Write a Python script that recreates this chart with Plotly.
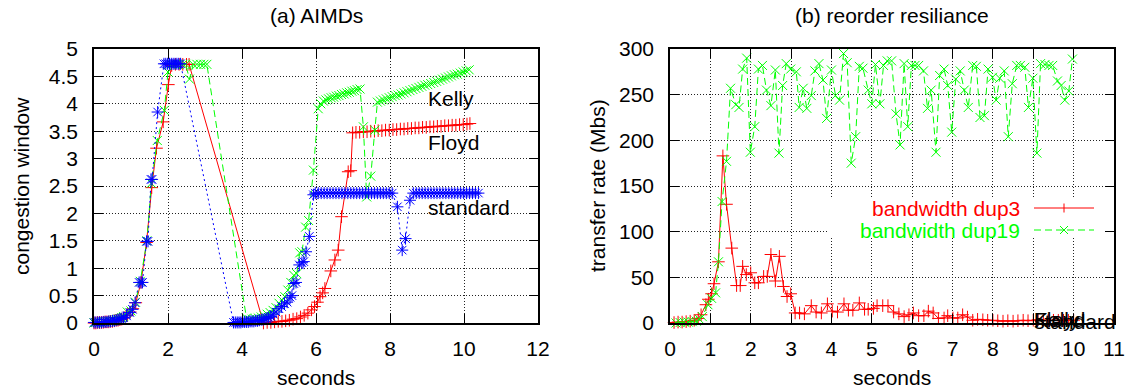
import plotly.graph_objects as go

# ---------------- data: (a) AIMDs ----------------
std_t = [0.00, 0.05, 0.10, 0.15, 0.20, 0.25, 0.30, 0.35, 0.40, 0.45, 0.50, 0.55, 0.60, 0.65, 0.70, 0.75, 0.80,
         0.88, 0.97, 1.04, 1.11, 1.22, 1.27, 1.31, 1.42, 1.46, 1.54, 1.57, 1.72,
         1.89, 1.94, 1.99, 2.04, 2.09, 2.14, 2.19, 2.24, 2.29, 2.34,
         3.77, 3.82, 3.87, 3.92, 3.97, 4.02, 4.07, 4.12, 4.17, 4.22, 4.27, 4.32, 4.37, 4.42, 4.47, 4.52, 4.57,
         4.62, 4.67, 4.72, 4.78, 4.85, 4.92, 5.00, 5.07, 5.15, 5.22, 5.30, 5.35, 5.40, 5.46, 5.55, 5.62, 5.67,
         5.73, 5.82, 5.93,
         5.98, 6.06, 6.14, 6.22, 6.30, 6.38, 6.46, 6.54, 6.62, 6.70, 6.78, 6.86, 6.94, 7.02, 7.10, 7.18, 7.26,
         7.34, 7.42, 7.50, 7.58, 7.66, 7.74, 7.82, 7.90, 7.98, 8.06,
         8.20, 8.33, 8.42, 8.54,
         8.63, 8.71, 8.79, 8.87, 8.95, 9.03, 9.11, 9.19, 9.27, 9.35, 9.43, 9.51, 9.59, 9.67, 9.75, 9.83, 9.91,
         9.99, 10.07, 10.15, 10.23, 10.31, 10.39]
std_w = [0.01, 0.01, 0.01, 0.01, 0.01, 0.02, 0.02, 0.02, 0.03, 0.03, 0.04, 0.04, 0.05, 0.06, 0.07, 0.08, 0.10,
         0.13, 0.19, 0.25, 0.37, 0.74, 0.74, 0.74, 1.49, 1.49, 2.62, 2.62, 3.85,
         4.73, 4.73, 4.73, 4.73, 4.73, 4.73, 4.73, 4.73, 4.73, 4.73,
         0.01, 0.01, 0.01, 0.01, 0.01, 0.02, 0.02, 0.02, 0.02, 0.03, 0.03, 0.03, 0.04, 0.04, 0.05, 0.06, 0.06,
         0.07, 0.08, 0.10, 0.12, 0.16, 0.20, 0.26, 0.30, 0.35, 0.38, 0.47, 0.50, 0.72, 0.74, 1.06, 1.10, 1.12,
         1.30, 1.58, 2.34,
         2.37, 2.37, 2.37, 2.37, 2.37, 2.37, 2.37, 2.37, 2.37, 2.37, 2.37, 2.37, 2.37, 2.37, 2.37, 2.37, 2.37,
         2.37, 2.37, 2.37, 2.37, 2.37, 2.37, 2.37, 2.37, 2.37, 2.37,
         2.12, 1.33, 1.54, 2.24,
         2.37, 2.37, 2.37, 2.37, 2.37, 2.37, 2.37, 2.37, 2.37, 2.37, 2.37, 2.37, 2.37, 2.37, 2.37, 2.37, 2.37,
         2.37, 2.37, 2.37, 2.37, 2.37, 2.37]

kelly_t = [0.00, 0.05, 0.10, 0.15, 0.20, 0.25, 0.30, 0.35, 0.40, 0.45, 0.50, 0.55, 0.60, 0.65, 0.70, 0.75, 0.80,
           0.90, 1.00, 1.12, 1.25, 1.43, 1.55, 1.71, 1.90, 2.00,
           2.10, 2.20, 2.30, 2.40, 2.48, 2.58, 2.68, 2.78, 2.88, 2.97, 3.05,
           4.12, 4.20, 4.28, 4.36, 4.44, 4.52, 4.60, 4.68, 4.76, 4.84, 4.92, 5.00, 5.08, 5.16, 5.24, 5.32, 5.40,
           5.48, 5.56, 5.62, 5.72, 5.80, 5.93,
           6.06, 6.13, 6.20, 6.27, 6.34, 6.41, 6.48, 6.55, 6.62, 6.69, 6.76, 6.83, 6.90, 6.97, 7.04, 7.11, 7.19,
           7.28, 7.37, 7.48, 7.59, 7.66,
           7.74, 7.82, 7.90, 7.98, 8.06, 8.14, 8.22, 8.30, 8.38, 8.46, 8.54, 8.62, 8.70, 8.78, 8.86, 8.94, 9.02,
           9.10, 9.18, 9.26, 9.34, 9.42, 9.50, 9.58, 9.66, 9.74, 9.82, 9.90, 9.98, 10.06, 10.14]
kelly_w = [0.00, 0.01, 0.01, 0.01, 0.01, 0.02, 0.02, 0.02, 0.03, 0.03, 0.04, 0.05, 0.06, 0.07, 0.08, 0.10, 0.12,
           0.20, 0.22, 0.38, 0.76, 1.50, 2.55, 3.33, 3.88, 4.58,
           4.72, 4.72, 4.72, 4.72, 4.72, 4.45, 4.72, 4.72, 4.72, 4.72, 4.72,
           0.09, 0.06, 0.07, 0.08, 0.09, 0.11, 0.13, 0.16, 0.19, 0.23, 0.28, 0.36, 0.42, 0.48, 0.60, 0.74, 0.87,
           0.90, 1.28, 1.30, 1.75, 1.87, 2.79,
           3.91, 4.00, 4.05, 4.07, 4.09, 4.11, 4.12, 4.14, 4.15, 4.17, 4.18, 4.20, 4.21, 4.23, 4.24, 4.26, 4.27,
           3.58, 2.30, 2.68, 3.52, 4.03,
           4.05, 4.07, 4.09, 4.11, 4.13, 4.15, 4.16, 4.18, 4.20, 4.22, 4.24, 4.26, 4.28, 4.30, 4.32, 4.34, 4.35,
           4.37, 4.39, 4.41, 4.43, 4.45, 4.47, 4.49, 4.51, 4.53, 4.54, 4.56, 4.58, 4.60, 4.62]

floyd_t = [0.00, 0.05, 0.10, 0.15, 0.20, 0.25, 0.30, 0.35, 0.40, 0.45, 0.50, 0.55, 0.60, 0.65, 0.70, 0.75, 0.80,
           0.90, 0.98, 1.05, 1.13, 1.27, 1.42, 1.56, 1.69, 1.87, 2.01, 2.10, 2.20, 2.30, 2.40, 2.50, 2.57,
           4.58, 4.68, 4.78, 4.88, 4.98, 5.08, 5.18, 5.28, 5.38, 5.48, 5.58, 5.68, 5.78, 5.88, 5.96, 6.04, 6.11,
           6.18, 6.24, 6.40, 6.51, 6.60, 6.69, 6.87, 6.94, 6.99,
           7.08, 7.18, 7.28, 7.38, 7.48, 7.58, 7.68, 7.78, 7.88, 7.98, 8.08, 8.18, 8.28, 8.38, 8.48, 8.58, 8.68,
           8.78, 8.88, 8.98, 9.08, 9.18, 9.28, 9.38, 9.48, 9.58, 9.68, 9.78, 9.88, 9.98, 10.08, 10.16]
floyd_w = [0.00, 0.00, 0.01, 0.01, 0.01, 0.01, 0.02, 0.02, 0.02, 0.03, 0.03, 0.04, 0.05, 0.05, 0.06, 0.07, 0.09,
           0.14, 0.20, 0.26, 0.37, 0.74, 1.47, 2.47, 3.19, 3.67, 4.35, 4.70, 4.72, 4.72, 4.72, 4.72, 4.72,
           0.00, 0.01, 0.01, 0.02, 0.03, 0.03, 0.04, 0.05, 0.07, 0.08, 0.11, 0.14, 0.18, 0.24, 0.30, 0.38, 0.48,
           0.55, 0.63, 0.95, 1.15, 1.33, 1.94, 2.76, 2.78, 3.47,
           3.48, 3.48, 3.49, 3.49, 3.50, 3.50, 3.51, 3.51, 3.52, 3.52, 3.53, 3.53, 3.54, 3.54, 3.55, 3.55, 3.56,
           3.56, 3.57, 3.57, 3.58, 3.58, 3.59, 3.59, 3.60, 3.60, 3.61, 3.61, 3.62, 3.62, 3.63, 3.64]

# ---------------- data: (b) reorder resiliance ----------------
dup3_t = [0.10, 0.20, 0.30, 0.40, 0.50, 0.60, 0.70, 0.77, 0.89, 0.95, 1.03, 1.09, 1.20, 1.31, 1.40, 1.53,
          1.65, 1.74, 1.80, 1.89, 2.00, 2.10, 2.19, 2.32, 2.41, 2.50, 2.61, 2.71, 2.81, 2.90, 2.99,
          3.10, 3.21, 3.33, 3.50, 3.62, 3.75, 3.90, 4.02, 4.15, 4.31, 4.42, 4.53, 4.69, 4.82, 4.91,
          5.04, 5.13, 5.27, 5.40, 5.54, 5.67, 5.80, 5.92, 6.03, 6.16, 6.29, 6.40, 6.52, 6.65, 6.79, 6.88,
          7.01, 7.13, 7.25, 7.37, 7.50, 7.62, 7.75, 7.87, 8.00, 8.12, 8.25, 8.37, 8.50, 8.62, 8.75, 8.87,
          9.00, 9.12, 9.25, 9.37, 9.50, 9.62, 9.75, 9.87, 10.00]
dup3_v = [0.5, 1, 1, 1.5, 2, 3, 5, 9, 20, 26, 32, 43, 67, 183, 130, 82,
          41, 41, 62, 53, 55, 44, 44, 51, 51, 75, 46, 73, 40, 29, 32,
          11, 11, 10, 19, 12, 11, 21, 13, 12, 21, 14, 14, 22, 15, 15,
          16, 19, 19, 19, 12, 10, 7, 9, 11, 8, 8, 13, 11, 5, 5.5, 8,
          5.5, 5.5, 9, 6.5, 3, 4, 3.5, 3, 3, 2.5, 2, 2.5, 2, 2.5, 3, 2.5,
          3, 3.5, 3, 3, 3, 3, 3, 3, 3]

dup19_t = [0.15, 0.25, 0.35, 0.45, 0.55, 0.65, 0.73, 0.80, 0.94, 1.03, 1.13, 1.20, 1.29, 1.40,
           1.50, 1.63, 1.71, 1.80, 1.90, 1.99, 2.10, 2.19, 2.29, 2.39, 2.50, 2.61, 2.70, 2.79, 2.88, 2.99,
           3.13, 3.20, 3.30, 3.39, 3.50, 3.59, 3.69, 3.79, 3.88, 4.00, 4.10, 4.20, 4.30, 4.39, 4.49, 4.60,
           4.69, 4.78, 4.91, 5.00, 5.09, 5.20, 5.29, 5.38, 5.49, 5.60, 5.70, 5.80, 5.89, 5.98,
           6.07, 6.16, 6.28, 6.38, 6.47, 6.59, 6.68, 6.79, 6.88, 6.98, 7.08, 7.19, 7.29, 7.39, 7.50, 7.59,
           7.68, 7.79, 7.88, 7.99, 8.08, 8.17, 8.28, 8.38, 8.48, 8.59, 8.68, 8.79, 8.88, 8.99,
           9.09, 9.18, 9.29, 9.39, 9.48, 9.60, 9.69, 9.78, 9.88, 9.97]
dup19_v = [0, 0.5, 1, 1, 1.5, 2, 4, 7, 20, 27, 33, 67, 133, 177,
           257, 239, 236, 278, 290, 187, 215, 278, 282, 255, 238, 277, 186, 260, 284, 278,
           275, 236, 257, 235, 249, 276, 284, 266, 224, 277, 249, 244, 295, 285, 175, 204,
           281, 279, 255, 240, 283, 240, 282, 287, 287, 229, 195, 284, 215, 282,
           282, 282, 276, 235, 255, 187, 271, 278, 260, 209, 267, 276, 255, 236, 282, 281,
           225, 227, 278, 269, 244, 268, 276, 204, 262, 282, 282, 280, 236, 268,
           186, 284, 283, 282, 282, 265, 260, 244, 254, 289]

# tick labels
a_xticks = [0, 2, 4, 6, 8, 10, 12]
a_yticks = [0, 0.5, 1, 1.5, 2, 2.5, 3, 3.5, 4, 4.5, 5]
a_ylabels = ["0", "0.5", "1", "1.5", "2", "2.5", "3", "3.5", "4", "4.5", "5"]
b_xticks = [0, 1, 2, 3, 4, 5, 6, 7, 8, 9, 10, 11]
b_yticks = [0, 50, 100, 150, 200, 250, 300]

# text labels (placed in data coordinates of each panel)
curve_labels = ["Kelly", "Floyd", "standard"]
curve_label_x = [9, 9, 9]
curve_label_y = [4.1, 3.3, 2.1]
legend_names = ["bandwidth dup3", "bandwidth dup19"]

# ---------------- styling ----------------
W, H = 1125, 388
FONT = "Liberation Sans, Arial, Helvetica, sans-serif"
FS = 21
RED, GREEN, BLUE = "#ff0000", "#00ff00", "#0000ff"


def px(x):
    return x / W


def py(y):
    return 1 - y / H


fig = go.Figure()


def add_series(x, y, color, dash, symbol, xa, ya, size=9):
    fig.add_trace(go.Scatter(
        x=x, y=y, mode="lines+markers", xaxis=xa, yaxis=ya, showlegend=False,
        line=dict(color=color, width=1, dash=dash),
        marker=dict(symbol=symbol, size=size, color=color, line=dict(color=color, width=1)),
        cliponaxis=False,
    ))


add_series(floyd_t, floyd_w, RED, "solid", "cross-thin", "x", "y")
add_series(kelly_t, kelly_w, GREEN, "7px,4px", "x-thin", "x", "y")
add_series(std_t, std_w, BLUE, "2px,3px", "asterisk", "x", "y", size=10)

add_series(dup3_t, dup3_v, RED, "solid", "cross-thin", "x2", "y2")
add_series(dup19_t, dup19_v, GREEN, "7px,4px", "x-thin", "x2", "y2")

axis_common = dict(
    showline=True, linecolor="black", linewidth=1.5, mirror="allticks",
    ticks="inside", ticklen=9, tickwidth=1, tickcolor="black",
    showgrid=True, gridcolor="#222", gridwidth=1, griddash="1px,2px",
    zeroline=False, automargin=False,
    tickfont=dict(family=FONT, size=FS, color="black"),
)

ydom = [py(323), py(49)]
fig.update_layout(
    template="none",
    width=W, height=H, margin=dict(l=0, r=0, t=0, b=0, pad=0),
    paper_bgcolor="white", plot_bgcolor="white",
    font=dict(family=FONT, size=FS, color="black"),
    showlegend=False,
    xaxis=dict(domain=[px(94), px(538)], range=[0, 12], tickvals=a_xticks, anchor="y",
               ticklabelstandoff=6, **axis_common),
    yaxis=dict(domain=ydom, range=[0, 5], tickvals=a_yticks, ticktext=a_ylabels, anchor="x",
               ticklabelstandoff=10, **axis_common),
    xaxis2=dict(domain=[px(670), px(1114)], range=[0, 11], tickvals=b_xticks, anchor="y2",
                ticklabelstandoff=6, **axis_common),
    yaxis2=dict(domain=ydom, range=[0, 300], tickvals=b_yticks, anchor="x2",
                ticklabelstandoff=10, **axis_common),
)

# blank area behind the key of panel (b) (grid removed there)
fig.add_shape(type="rect", xref="x2", yref="y2", x0=3.9, x1=10.75, y0=93, y1=137,
              fillcolor="white", line=dict(width=0), layer="between")

ann = []
# panel titles
ann.append(dict(text="(a) AIMDs", x=px(316), y=py(16), xref="paper", yref="paper",
                showarrow=False, xanchor="center", yanchor="middle"))
ann.append(dict(text="(b) reorder resiliance", x=px(892), y=py(16), xref="paper", yref="paper",
                showarrow=False, xanchor="center", yanchor="middle"))
# axis titles
for cx in (316, 892):
    ann.append(dict(text="seconds", x=px(cx), y=py(377), xref="paper", yref="paper",
                    showarrow=False, xanchor="center", yanchor="middle"))
ann.append(dict(text="congestion window", x=px(21), y=py(186), xref="paper", yref="paper",
                showarrow=False, textangle=-90, xanchor="center", yanchor="middle"))
ann.append(dict(text="transfer rate (Mbs)", x=px(597), y=py(186), xref="paper", yref="paper",
                showarrow=False, textangle=-90, xanchor="center", yanchor="middle"))
# curve labels (drawn on both panels, as in the original)
for xr, yr in (("x", "y"), ("x2", "y2")):
    for t, lx, ly in zip(curve_labels, curve_label_x, curve_label_y):
        ann.append(dict(text=t, x=lx, y=ly, xref=xr, yref=yr, showarrow=False,
                        xanchor="left", yanchor="middle", borderpad=0))
# key of panel (b)
key_rows = [(208, RED), (230, GREEN)]
for name, (ky, col) in zip(legend_names, key_rows):
    ann.append(dict(text=name, x=px(1021), y=py(ky), xref="paper", yref="paper", showarrow=False,
                    xanchor="right", yanchor="middle", font=dict(color=col), borderpad=0))
fig.update_layout(annotations=ann)

# key samples
fig.add_shape(type="line", xref="paper", yref="paper", x0=px(1034), x1=px(1094), y0=py(208), y1=py(208),
              line=dict(color=RED, width=1))
fig.add_shape(type="line", xref="paper", yref="paper", x0=px(1064), x1=px(1064), y0=py(203.5), y1=py(212.5),
              line=dict(color=RED, width=1))
fig.add_shape(type="line", xref="paper", yref="paper", x0=px(1034), x1=px(1094), y0=py(230), y1=py(230),
              line=dict(color=GREEN, width=1, dash="7px,4px"))
fig.add_shape(type="line", xref="paper", yref="paper", x0=px(1060), x1=px(1068), y0=py(226), y1=py(234),
              line=dict(color=GREEN, width=1))
fig.add_shape(type="line", xref="paper", yref="paper", x0=px(1060), x1=px(1068), y0=py(234), y1=py(226),
              line=dict(color=GREEN, width=1))

fig.write_html("out.html", config={"displayModeBar": False},
               post_script="document.body.style.margin='0';document.body.style.overflow='hidden';")
